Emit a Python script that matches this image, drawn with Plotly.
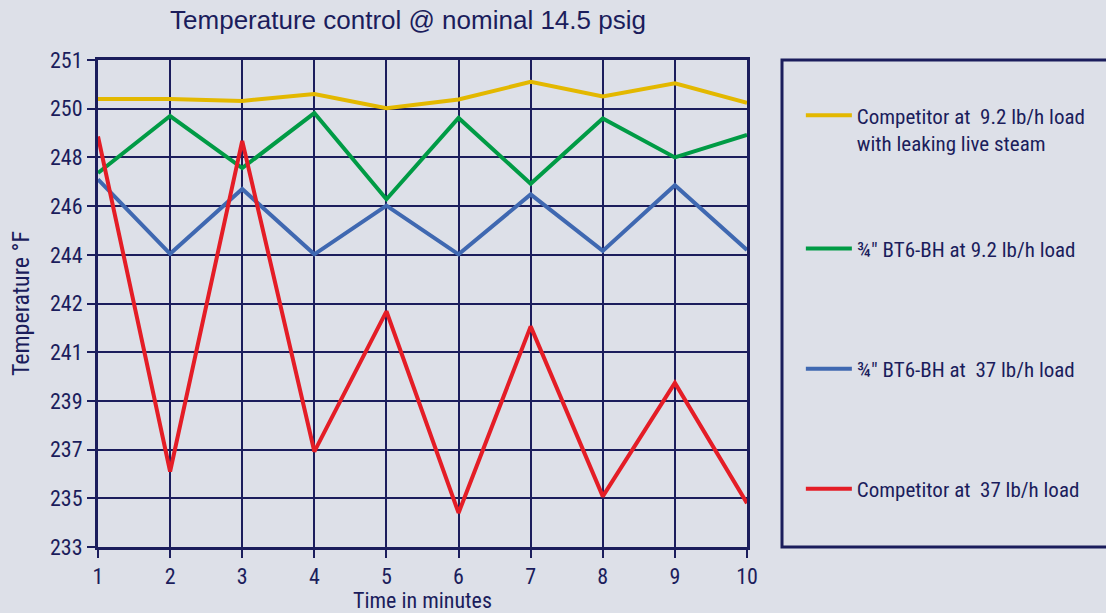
import numpy as np
import plotly.graph_objects as go

# ---- data (°F) ----
minutes = [1, 2, 3, 4, 5, 6, 7, 8, 9, 10]
competitor_92 = [250.20, 250.20, 250.16, 250.30, 250.01, 250.19, 250.55, 250.25, 250.52, 250.12]
bt6_92 = [247.36, 249.70, 247.56, 249.82, 246.28, 249.62, 246.92, 249.60, 248.00, 248.92]
bt6_37 = [247.10, 244.04, 246.70, 244.02, 246.02, 244.02, 246.48, 244.16, 246.86, 244.20]
competitor_37 = [248.86, 236.10, 248.68, 236.92, 241.84, 234.40, 241.53, 235.08, 239.74, 234.80]

# irregular tick labels of the original chart, drawn on evenly spaced gridlines
y_tick_labels = [233, 235, 237, 239, 241, 242, 244, 246, 248, 250, 251]
y_tick_pos = list(range(len(y_tick_labels)))

series_names = [
    "Competitor at  9.2 lb/h load<br>with leaking live steam",
    "¾\" BT6-BH at 9.2 lb/h load",
    "¾\" BT6-BH at  37 lb/h load",
    "Competitor at  37 lb/h load",
]
series_values = [competitor_92, bt6_92, bt6_37, competitor_37]
series_colors = ["#e3b800", "#009b45", "#3f68b1", "#e41d26"]

NAVY = "#1b1d5c"
BG = "#dde0e8"
NARROW = "Liberation Sans Narrow, Arial Narrow, Roboto Condensed, Roboto, sans-serif"

def to_axis(vals):
    return np.interp(vals, y_tick_labels, y_tick_pos)

fig = go.Figure()
legend_ids = ["legend", "legend2", "legend3", "legend4"]
for name, vals, col, lg in zip(series_names, series_values, series_colors, legend_ids):
    fig.add_trace(go.Scatter(
        x=minutes, y=to_axis(vals), customdata=vals, mode="lines", name=name,
        line=dict(color=col, width=4), legend=lg,
        hovertemplate="%{x} min: %{customdata:.1f} °F<extra></extra>",
    ))

legend_common = dict(
    x=1.083, xanchor="left", yanchor="middle", bgcolor="rgba(0,0,0,0)",
    borderwidth=0, font=dict(family=NARROW, size=21, color=NAVY), itemwidth=46,
)
layout_legends = {
    "legend": dict(y=0.858, valign="top", **legend_common),
    "legend2": dict(y=0.612, **legend_common),
    "legend3": dict(y=0.3655, **legend_common),
    "legend4": dict(y=0.119, **legend_common),
}

fig.update_layout(
    width=1106, height=613,
    margin=dict(l=98, r=359, t=60, b=66, autoexpand=False),
    paper_bgcolor=BG, plot_bgcolor=BG,
    showlegend=True,
    title=dict(text="Temperature control @ nominal 14.5 psig",
               x=408 / 1106, xref="container", xanchor="center",
               y=1 - 20 / 613, yref="container", yanchor="middle",
               font=dict(family="Liberation Sans, Arial, sans-serif", size=26, color=NAVY)),
    **layout_legends,
)

fig.update_xaxes(
    range=[1, 10], tickvals=minutes, ticks="outside", ticklen=8, tickwidth=1.5,
    tickcolor=NAVY, showgrid=True, gridcolor=NAVY, gridwidth=1.5,
    showline=True, linecolor=NAVY, linewidth=3, mirror=True, zeroline=False,
    automargin=False,
    tickfont=dict(family=NARROW, size=22, color=NAVY),
    title=dict(text="Time in minutes", standoff=4,
               font=dict(family=NARROW, size=22, color=NAVY)),
)
fig.update_yaxes(
    range=[0, 10], tickvals=y_tick_pos, ticktext=[str(v) for v in y_tick_labels],
    ticks="outside", ticklen=8, tickwidth=1.5, tickcolor=NAVY,
    showgrid=True, gridcolor=NAVY, gridwidth=1.5,
    showline=True, linecolor=NAVY, linewidth=3, mirror=True, zeroline=False,
    automargin=False,
    tickfont=dict(family=NARROW, size=22, color=NAVY),
    title=dict(text="Temperature °F", standoff=14,
               font=dict(family=NARROW, size=24, color=NAVY)),
)

# legend frame
fig.add_shape(type="rect", xref="paper", yref="paper",
              x0=(782 - 98) / 649, x1=(1112 - 98) / 649, y0=0, y1=1,
              line=dict(color=NAVY, width=3), fillcolor="rgba(0,0,0,0)")

fig.write_html(
    "out.html",
    config={"displayModeBar": False},
    post_script="document.body.style.margin='0px';document.body.style.background='" + BG + "';",
)
